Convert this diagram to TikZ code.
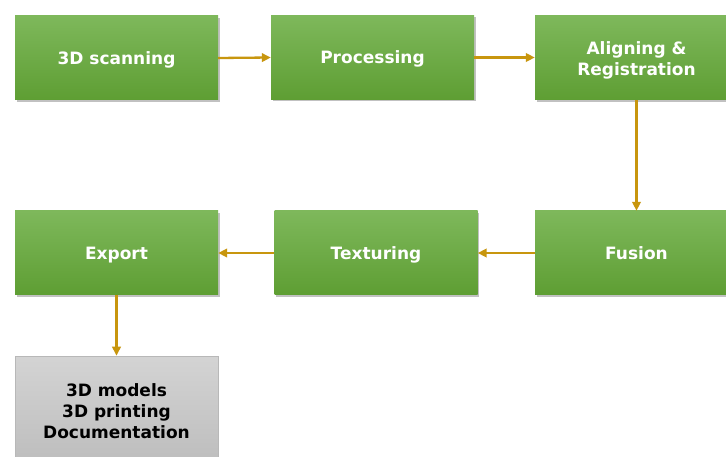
\documentclass[tikz,border=0pt]{standalone}
\usepackage{fontspec}
\setmainfont{DejaVu Sans}
\usetikzlibrary{arrows.meta,shadows}
\definecolor{gtop}{HTML}{7EB85B}
\definecolor{gbot}{HTML}{5E9E33}
\definecolor{arr}{HTML}{C8960E}
\begin{document}
\begin{tikzpicture}[x=1pt,y=-1pt,
  stagebox/.style={rectangle, minimum width=203pt, minimum height=84pt, top color=gtop, bottom color=gbot, draw=none,
    text=white, font=\fontsize{17}{21}\selectfont\bfseries,
    drop shadow={shadow xshift=1.5pt, shadow yshift=-1.8pt, opacity=0.4, fill=black!60}},
  stage/.style={stagebox, text height=12.4pt, text depth=0pt},
  outbox/.style={rectangle, minimum width=203pt, minimum height=110pt, top color=black!17, bottom color=black!26,
    draw=black!28, line width=0.6pt, text=black, font=\fontsize{17}{21}\selectfont\bfseries, align=center},
  flow/.style={draw=arr, line width=2.3pt, -{Triangle[length=9pt,width=8.5pt]}}]
\clip (0,0) rectangle (726,457);
\fill[white] (0,0) rectangle (726,457);
\node[stage] (scan) at (116.5,58) {3D scanning};
\node[stage] (proc) at (372.5,57.5) {Processing};
\node[stagebox] (align) at (636.5,58) {\raisebox{0pt}[\dimexpr\height+6pt\relax]{\begin{tabular}{@{}c@{}}Aligning \&\\Registration\end{tabular}}};
\node[stage] (fus) at (636.5,253) {Fusion};
\node[stage] (tex) at (376,253) {Texturing};
\node[stage] (exp) at (116.5,253) {Export};
\node[outbox] (out) at (116.5,411) {3D models\\3D printing\\Documentation};
\draw[flow] (scan.east) -- (proc.west);
\draw[flow] (proc.east) -- (proc.east -| align.west);
\draw[flow] (align.south) -- (fus.north);
\draw[flow] (fus.west) -- (tex.east);
\draw[flow] (tex.west) -- (exp.east);
\draw[flow] (exp.south) -- (out.north);
\end{tikzpicture}
\end{document}
